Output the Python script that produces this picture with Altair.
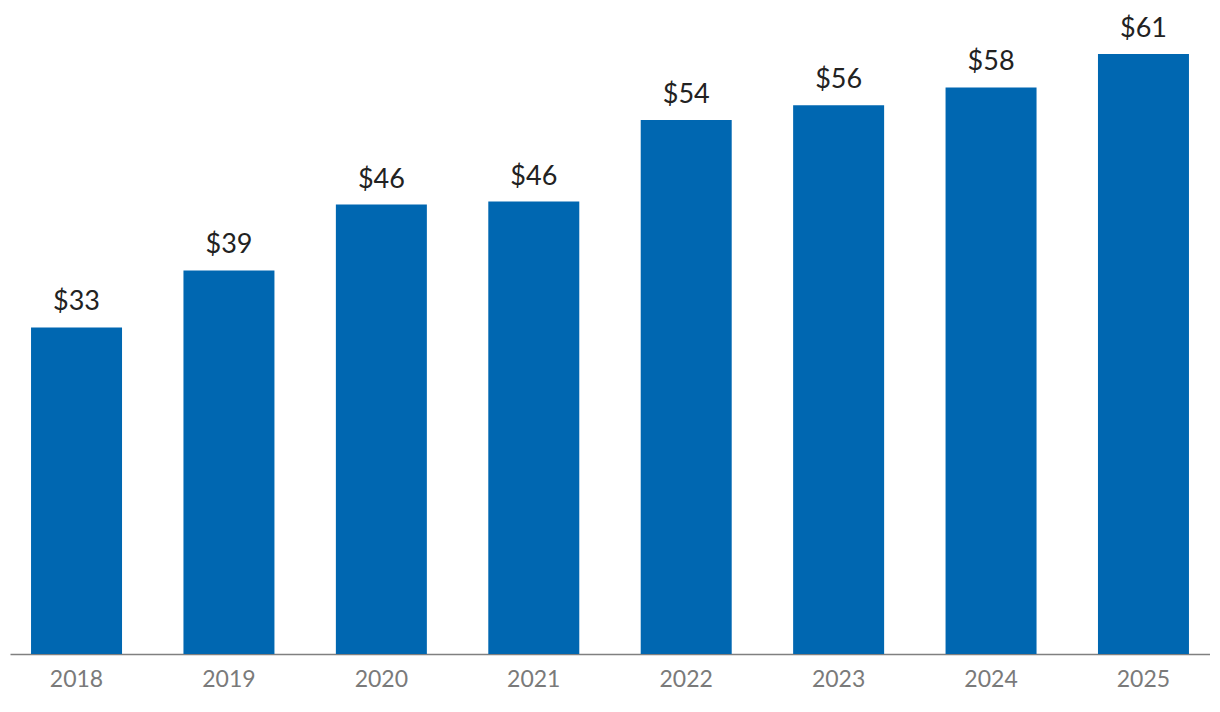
import altair as alt
import pandas as pd

years = ["2018", "2019", "2020", "2021", "2022", "2023", "2024", "2025"]
values = [33.2, 39.0, 45.7, 46.0, 54.3, 55.8, 57.6, 61.0]
labels = ["$33", "$39", "$46", "$46", "$54", "$56", "$58", "$61"]

df = pd.DataFrame({"year": years, "value": values, "label": labels})

x = alt.X("year:N", title=None, sort=years,
          scale=alt.Scale(paddingInner=0.403, paddingOuter=0.138),
          axis=alt.Axis(labelAngle=0, ticks=False, domain=True, domainColor="#808080",
                        domainWidth=1.5, labelFont="Lato", labelFontSize=23,
                        labelColor="#7a7a7a", labelPadding=14, grid=False))
y = alt.Y("value:Q", title=None, scale=alt.Scale(domain=[0, 65.07], nice=False, zero=True),
          axis=None)

bars = alt.Chart(df).mark_bar(color="#0067B1").encode(x=x, y=y)
text = alt.Chart(df).mark_text(font="Lato", fontSize=27, color="#222222",
                               baseline="alphabetic", dy=-17).encode(
    x=x, y=y, text="label:N")

chart = (bars + text).properties(
    width=1200, height=640,
    background="white",
    autosize=alt.AutoSizeParams(type="none"),
    padding={"left": 2, "top": 6, "right": 0, "bottom": 50},
).configure_view(stroke=None, strokeWidth=0)

chart.save("out.html", embed_options={"renderer": "svg", "actions": False})
